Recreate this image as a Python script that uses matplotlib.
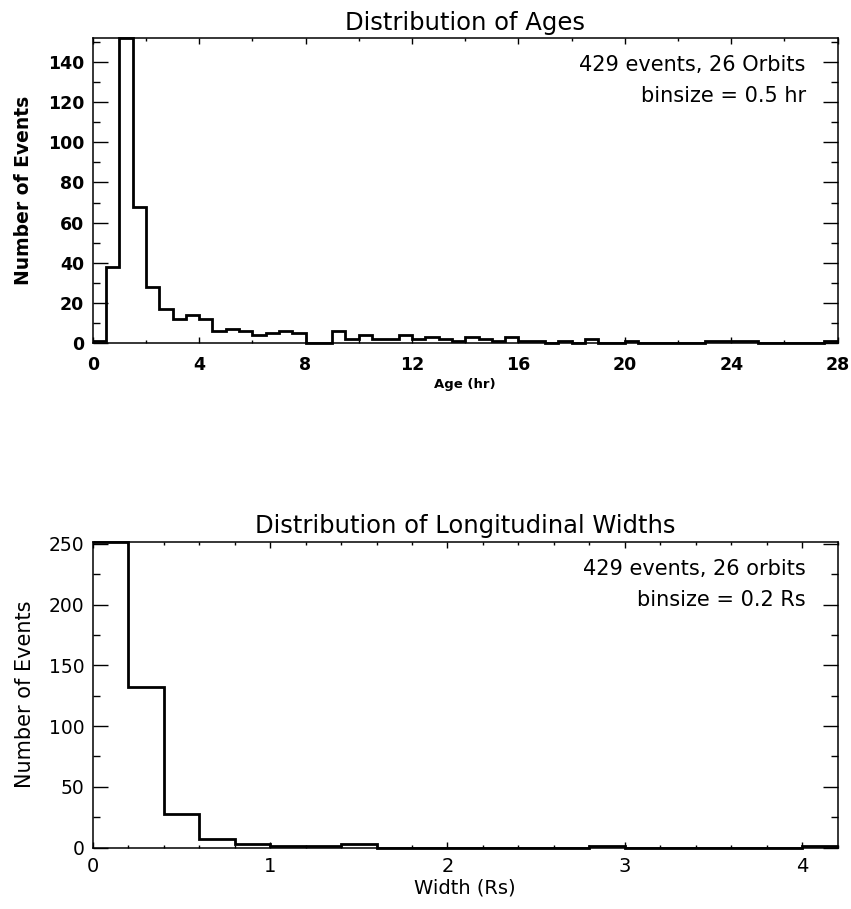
import numpy as np
import matplotlib
matplotlib.use("Agg")
import matplotlib.pyplot as plt
from matplotlib.ticker import MultipleLocator

plt.rcParams['font.family'] = ['DejaVu Sans']

# Event ages, 0.5 hr bins from 0 to 28 hr
age_edges = np.arange(0.0, 28.01, 0.5)
age_counts = [1, 38, 152, 68, 28, 17, 12, 14, 12, 6,
              7, 6, 4, 5, 6, 5, 0, 0, 6, 2,
              4, 2, 2, 4, 2, 3, 2, 1, 3, 2,
              1, 3, 1, 1, 0, 1, 0, 2, 0, 0,
              1, 0, 0, 0, 0, 0, 1, 1, 1, 1,
              0, 0, 0, 0, 0, 1]

# Longitudinal widths, 0.2 Rs bins from 0 to 4.2 Rs
width_edges = np.arange(0.0, 4.201, 0.2)
width_counts = [252, 132, 28, 7, 3, 1, 1, 3, 0, 0,
                0, 0, 0, 0, 1, 0, 0, 0, 0, 0,
                1]

W, H = 851, 909
fig = plt.figure(figsize=(W / 100, H / 100), dpi=100)


def style_axes(ax, xmaj, xmin, ymaj, ymin, bold):
    for s in ax.spines.values():
        s.set_linewidth(1.1)
    ax.xaxis.set_major_locator(MultipleLocator(xmaj))
    ax.xaxis.set_minor_locator(MultipleLocator(xmin))
    ax.yaxis.set_major_locator(MultipleLocator(ymaj))
    ax.yaxis.set_minor_locator(MultipleLocator(ymin))
    ax.tick_params(which='both', direction='in', top=True, right=True, width=1.0)
    ax.tick_params(axis='x', which='major', length=4.5, pad=9)
    ax.tick_params(axis='x', which='minor', length=2.3)
    ax.tick_params(axis='y', which='major', length=10.5, pad=6)
    ax.tick_params(axis='y', which='minor', length=5.3)
    for lab in ax.get_xticklabels() + ax.get_yticklabels():
        lab.set_fontweight('bold' if bold else 'normal')


# top panel: ages
ax1 = fig.add_axes([92.7 / W, 1 - 343 / H, 745 / W, 305 / H])
ax1.stairs(age_counts, age_edges, baseline=None, color='black', lw=2.0, clip_on=False)
ax1.set_xlim(0, 28)
ax1.set_ylim(0, max(age_counts))
style_axes(ax1, 4, 2, 20, 10, True)
ax1.tick_params(labelsize=12.5)
ax1.set_title('Distribution of Ages', fontsize=17.5, pad=6)
ax1.set_xlabel('Age (hr)', fontsize=9.5, fontweight='bold', labelpad=3)
ax1.set_ylabel('Number of Events', fontsize=13.5, fontweight='bold', labelpad=11)
ax1.text(0.957, 0.91, '429 events, 26 Orbits', transform=ax1.transAxes,
         ha='right', va='center', fontsize=15)
ax1.text(0.957, 0.81, 'binsize = 0.5 hr', transform=ax1.transAxes,
         ha='right', va='center', fontsize=15)

# bottom panel: longitudinal widths
ax2 = fig.add_axes([92.7 / W, 1 - 847.5 / H, 745 / W, 306 / H])
ax2.stairs(width_counts, width_edges, baseline=None, color='black', lw=2.0, clip_on=False)
ax2.set_xlim(0, 4.2)
ax2.set_ylim(0, max(width_counts))
style_axes(ax2, 1, 0.2, 50, 25, False)
ax2.tick_params(axis='y', labelsize=13.5)
ax2.tick_params(axis='x', labelsize=14, pad=7)
ax2.set_title('Distribution of Longitudinal Widths', fontsize=17.5, pad=6)
ax2.set_xlabel('Width (Rs)', fontsize=14, labelpad=2)
ax2.set_ylabel('Number of Events', fontsize=15, labelpad=10)
ax2.text(0.957, 0.91, '429 events, 26 orbits', transform=ax2.transAxes,
         ha='right', va='center', fontsize=15)
ax2.text(0.957, 0.81, 'binsize = 0.2 Rs', transform=ax2.transAxes,
         ha='right', va='center', fontsize=15)

fig.savefig('out.png', dpi=100)
